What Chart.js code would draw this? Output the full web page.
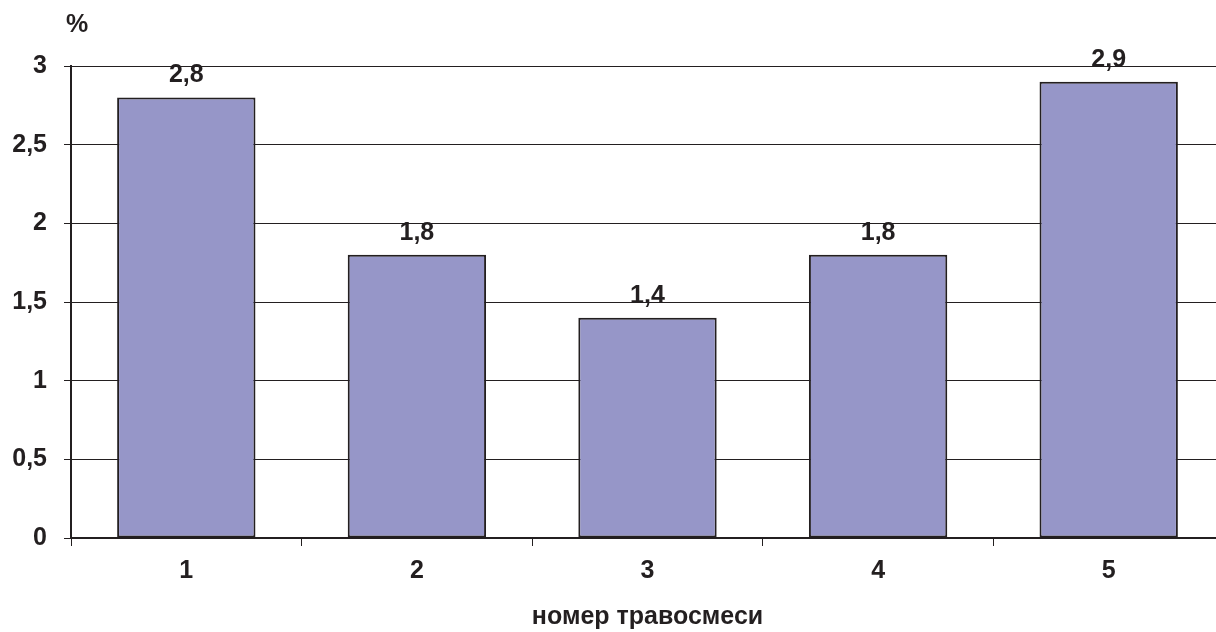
<!DOCTYPE html>
<html>
<head>
<meta charset="utf-8">
<script src="https://cdn.jsdelivr.net/npm/chart.js@4.4.1/dist/chart.umd.min.js"></script>
<style>
  html, body { margin: 0; padding: 0; background: #fff; overflow: hidden; }
  #wrap { width: 1216px; height: 632px; overflow: hidden; }
</style>
</head>
<body>
<div id="wrap"><canvas id="chart" width="1240" height="632"></canvas></div>
<script>
// data
const categories = ["1", "2", "3", "4", "5"];
const values = [2.8, 1.8, 1.4, 1.8, 2.9];
const yTicks = [0, 0.5, 1, 1.5, 2, 2.5, 3];
const yUnit = "%";
const xTitle = "номер травосмеси";

const FONT = "'Liberation Sans', Arial, sans-serif";
const SIZE = 25;
const fmt = v => String(v).replace(".", ",");

// labels above bars + unit on top of y axis
const labelsPlugin = {
  id: "labels",
  afterDatasetsDraw(chart) {
    const ctx = chart.ctx;
    ctx.save();
    ctx.font = "bold " + SIZE + "px " + FONT;
    ctx.fillStyle = "#231f20";
    ctx.textAlign = "center";
    ctx.textBaseline = "middle";
    chart.getDatasetMeta(0).data.forEach((bar, i) => {
      ctx.fillText(fmt(values[i]), bar.x, bar.y - 22);
    });
    ctx.textAlign = "left";
    ctx.fillText(yUnit, 66, 25);
    ctx.restore();
  }
};

new Chart(document.getElementById("chart"), {
  type: "bar",
  data: {
    labels: categories,
    datasets: [{
      data: values,
      backgroundColor: "#9696c8",
      borderColor: "#231f20",
      borderWidth: 2,
      borderSkipped: false,
      barPercentage: 0.6,
      categoryPercentage: 1
    }]
  },
  options: {
    responsive: false,
    animation: false,
    layout: { padding: { top: 66, right: 16, left: 0, bottom: 0 } },
    plugins: { legend: { display: false }, tooltip: { enabled: false } },
    scales: {
      x: {
        offset: true,
        grid: { drawOnChartArea: false, offset: true, tickLength: 8, color: "#231f20" },
        border: { color: "#231f20", width: 2 },
        ticks: { color: "#231f20", font: { family: FONT, size: SIZE, weight: "bold" }, padding: 10 },
        title: {
          display: true, text: xTitle, color: "#231f20",
          font: { family: FONT, size: SIZE, weight: "bold" }, padding: { top: 16, bottom: 0 }
        },
        afterFit(s) { s.height = 94; }
      },
      y: {
        min: 0, max: 3,
        afterBuildTicks(s) { s.ticks = yTicks.map(v => ({ value: v })); },
        grid: { color: "#231f20", lineWidth: 1, tickLength: 7 },
        border: { color: "#231f20", width: 2 },
        ticks: {
          color: "#231f20", font: { family: FONT, size: SIZE, weight: "bold" }, padding: 17,
          callback: v => fmt(v)
        },
        afterFit(s) { s.width = 71; }
      }
    }
  },
  plugins: [labelsPlugin]
});
</script>
</body>
</html>
